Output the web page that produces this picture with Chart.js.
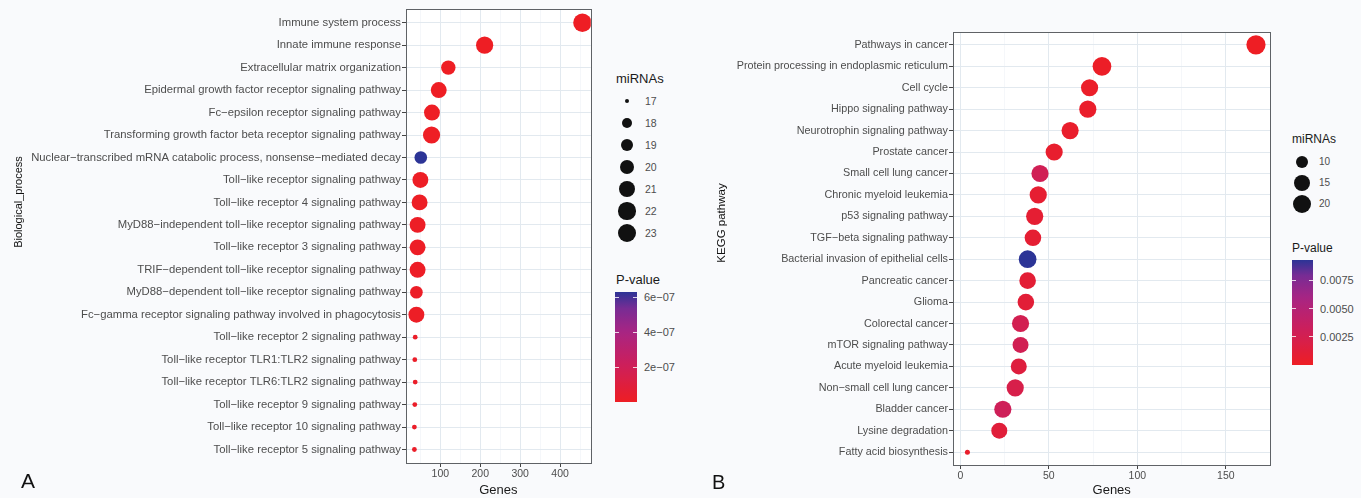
<!DOCTYPE html>
<html>
<head>
<meta charset="utf-8">
<title>GO / KEGG enrichment</title>
<script src="https://cdn.jsdelivr.net/npm/chart.js@4.4.1/dist/chart.umd.min.js"></script>
<style>
    body {
        margin: 0;
        width: 1361px;
        height: 498px;
        position: relative;
        overflow: hidden;
        background: #f9fafc;
        font-family: "Liberation Sans", Arial, sans-serif;
    }
    canvas { position: absolute; top: 0; }
    .txt { position: absolute; white-space: nowrap; line-height: 1; }
    .axis-title { color: #111; transform-origin: center; transform: translate(-50%, -50%) rotate(-90deg); }
    .panel-tag { font-size: 20px; color: #111; }
    .leg-title { color: #1a1a1a; transform: translateY(-50%); }
    .leg-label { color: #4d4d4d; transform: translateY(-50%); }
    .leg-dot { position: absolute; border-radius: 50%; background: #111; }
    .colorbar { position: absolute; }
    .cb-tick { position: absolute; height: 1px; background: rgba(255,255,255,0.8); }
</style>
</head>
<body>
<canvas id="chartA" width="600" height="498" style="left:0"></canvas>
<canvas id="chartB" width="580" height="498" style="left:700px"></canvas>
<div id="overlay"></div>

<script>
// ---- Panel A: Biological process ----
const bpTerms = [
    'Immune system process',
    'Innate immune response',
    'Extracellular matrix organization',
    'Epidermal growth factor receptor signaling pathway',
    'Fc−epsilon receptor signaling pathway',
    'Transforming growth factor beta receptor signaling pathway',
    'Nuclear−transcribed mRNA catabolic process, nonsense−mediated decay',
    'Toll−like receptor signaling pathway',
    'Toll−like receptor 4 signaling pathway',
    'MyD88−independent toll−like receptor signaling pathway',
    'Toll−like receptor 3 signaling pathway',
    'TRIF−dependent toll−like receptor signaling pathway',
    'MyD88−dependent toll−like receptor signaling pathway',
    'Fc−gamma receptor signaling pathway involved in phagocytosis',
    'Toll−like receptor 2 signaling pathway',
    'Toll−like receptor TLR1:TLR2 signaling pathway',
    'Toll−like receptor TLR6:TLR2 signaling pathway',
    'Toll−like receptor 9 signaling pathway',
    'Toll−like receptor 10 signaling pathway',
    'Toll−like receptor 5 signaling pathway'
];
const bpGenes = [456, 211, 120, 96, 79, 78, 51, 50, 48, 43, 43, 43, 40, 40, 37, 36, 37, 36, 35, 35];
const bpMirnas = [23, 22, 20, 21, 21, 22, 19, 21, 21, 21, 21, 21, 19, 21, 17, 17, 17, 17, 17, 17];
const bpPvalues = [1e-12, 2e-11, 5e-10, 1e-9, 3e-9, 2e-9, 6.3e-7, 4e-9, 5e-9, 6e-9, 6e-9, 6e-9, 1e-8, 8e-9, 2e-8, 2e-8, 2e-8, 2e-8, 2e-8, 2e-8];
const bpMajorTicks = [100, 200, 300, 400];
const bpMinorTicks = [50, 150, 250, 350, 450];
const bpSizeBreaks = [17, 18, 19, 20, 21, 22, 23];
const bpColorBreaks = [2e-7, 4e-7, 6e-7];
const bpColorLabels = ['2e−07', '4e−07', '6e−07'];

// ---- Panel B: KEGG pathway ----
const keggTerms = [
    'Pathways in cancer',
    'Protein processing in endoplasmic reticulum',
    'Cell cycle',
    'Hippo signaling pathway',
    'Neurotrophin signaling pathway',
    'Prostate cancer',
    'Small cell lung cancer',
    'Chronic myeloid leukemia',
    'p53 signaling pathway',
    'TGF−beta signaling pathway',
    'Bacterial invasion of epithelial cells',
    'Pancreatic cancer',
    'Glioma',
    'Colorectal cancer',
    'mTOR signaling pathway',
    'Acute myeloid leukemia',
    'Non−small cell lung cancer',
    'Bladder cancer',
    'Lysine degradation',
    'Fatty acid biosynthesis'
];
const keggGenes = [167, 80, 73, 72, 62, 53, 45, 44, 42, 41, 38, 38, 37, 34, 34, 33, 31, 24, 22, 4];
const keggMirnas = [21, 20, 17, 17, 17, 17, 17, 17, 17, 16, 18, 16, 16, 17, 15, 15, 17, 17, 15, 6];
const keggPvalues = [0.00002, 0.0002, 0.0003, 0.0004, 0.0005, 0.0006, 0.0028, 0.0008, 0.0009, 0.0009, 0.0093, 0.001, 0.0011, 0.0026, 0.0027, 0.0015, 0.0022, 0.003, 0.0013, 0.0005];
const keggMajorTicks = [0, 50, 100, 150];
const keggMinorTicks = [25, 75, 125, 175];
const keggSizeBreaks = [10, 15, 20];
const keggColorBreaks = [0.0025, 0.005, 0.0075];
const keggColorLabels = ['0.0025', '0.0050', '0.0075'];

// Gradiente rojo -> azul (aprox. interpolación Lab de ggplot)
const gradientStops = [
    [0.00, [238, 30, 36]],
    [0.32, [206, 31, 88]],
    [0.63, [170, 36, 130]],
    [0.85, [120, 44, 148]],
    [1.00, [44, 52, 150]]
];

function gradientColor(t) {
    t = Math.max(0, Math.min(1, t));
    for (let i = 1; i < gradientStops.length; i++) {
        const [t1, c1] = gradientStops[i];
        const [t0, c0] = gradientStops[i - 1];
        if (t <= t1) {
            const f = (t - t0) / (t1 - t0);
            const c = c0.map((v, k) => Math.round(v + (c1[k] - v) * f));
            return `rgb(${c[0]}, ${c[1]}, ${c[2]})`;
        }
    }
    return 'rgb(44, 52, 150)';
}

// Escala de tamaño tipo ggplot (área)
function makeSizeFn(values, rMin, rMax) {
    const vMin = Math.min(...values);
    const vMax = Math.max(...values);
    return v => rMin + Math.sqrt(Math.max(0, (v - vMin) / (vMax - vMin))) * (rMax - rMin);
}

// Fondo blanco del panel y borde
const panelFrame = {
    id: 'panelFrame',
    beforeDraw(chart) {
        const { ctx, chartArea: a } = chart;
        ctx.save();
        ctx.fillStyle = '#ffffff';
        ctx.fillRect(a.left, a.top, a.right - a.left, a.bottom - a.top);
        ctx.restore();
    },
    afterDraw(chart) {
        const { ctx, chartArea: a } = chart;
        ctx.save();
        ctx.strokeStyle = '#5f6266';
        ctx.lineWidth = 1;
        ctx.strokeRect(Math.round(a.left) + 0.5, Math.round(a.top) + 0.5,
            Math.round(a.right - a.left), Math.round(a.bottom - a.top));
        ctx.restore();
    }
};

Chart.defaults.font.family = '"Liberation Sans", Arial, sans-serif';

function buildPanel(p) {
    const gMin = Math.min(...p.genes), gMax = Math.max(...p.genes);
    const gPad = (gMax - gMin) * 0.05;
    const pMin = Math.min(...p.pvalues), pMax = Math.max(...p.pvalues);
    const sizeOf = makeSizeFn(p.mirnas, p.rMin, p.rMax);
    const gridTicks = [...p.majorTicks, ...p.minorTicks].sort((a, b) => a - b);
    const isMajor = v => p.majorTicks.includes(v);

    return new Chart(document.getElementById(p.canvas), {
        type: 'bubble',
        data: {
            datasets: [{
                data: p.genes.map((g, i) => ({ x: g, y: i, r: sizeOf(p.mirnas[i]) })),
                backgroundColor: ctx => gradientColor((p.pvalues[ctx.dataIndex] - pMin) / (pMax - pMin)),
                borderWidth: 0,
                hoverBorderWidth: 0
            }]
        },
        options: {
            responsive: false,
            animation: false,
            events: [],
            layout: { padding: p.padding },
            plugins: { legend: { display: false }, tooltip: { enabled: false } },
            scales: {
                x: {
                    type: 'linear',
                    min: gMin - gPad,
                    max: gMax + gPad,
                    afterBuildTicks: scale => { scale.ticks = gridTicks.map(v => ({ value: v })); },
                    afterFit: scale => { scale.height = p.xAxisHeight; },
                    border: { display: false },
                    grid: {
                        color: ctx => isMajor(ctx.tick.value) ? '#e2e9ef' : '#eef2f6',
                        lineWidth: ctx => isMajor(ctx.tick.value) ? 1 : 0.6,
                        tickColor: ctx => isMajor(ctx.tick.value) ? '#444' : 'rgba(0,0,0,0)',
                        tickLength: 4
                    },
                    ticks: {
                        autoSkip: false,
                        maxRotation: 0,
                        padding: 1,
                        color: '#4d4d4d',
                        font: { size: 10.5 },
                        callback: v => isMajor(v) ? String(v) : ''
                    },
                    title: {
                        display: true,
                        text: 'Genes',
                        color: '#1a1a1a',
                        font: { size: 13 },
                        padding: { top: 0, bottom: 0 }
                    }
                },
                y: {
                    type: 'linear',
                    reverse: true,
                    min: -0.6,
                    max: p.terms.length - 0.4,
                    afterBuildTicks: scale => { scale.ticks = p.terms.map((_, i) => ({ value: i })); },
                    afterFit: scale => { scale.width = p.yAxisWidth; },
                    border: { display: false },
                    grid: {
                        color: '#e2e9ef',
                        lineWidth: 1,
                        tickColor: '#444',
                        tickLength: 4
                    },
                    ticks: {
                        autoSkip: false,
                        padding: 1,
                        color: '#4d4d4d',
                        font: { size: p.labelSize },
                        callback: v => p.terms[v]
                    }
                }
            }
        },
        plugins: [panelFrame]
    });
}

// Leyendas (tamaño y barra de color)
function addText(cls, text, left, top, size, extra) {
    const el = document.createElement('div');
    el.className = 'txt ' + cls;
    el.textContent = text;
    el.style.left = left + 'px';
    el.style.top = top + 'px';
    el.style.fontSize = size + 'px';
    if (extra) Object.assign(el.style, extra);
    document.getElementById('overlay').appendChild(el);
    return el;
}

function buildLegend(p, L) {
    const overlay = document.getElementById('overlay');
    const sizeOf = makeSizeFn(p.mirnas, p.rMin, p.rMax);
    const pMin = Math.min(...p.pvalues), pMax = Math.max(...p.pvalues);

    addText('leg-title', 'miRNAs', L.left, L.sizeTitleY, L.titleSize);
    p.sizeBreaks.forEach((b, i) => {
        const cy = L.firstItemY + i * L.itemStep;
        const r = sizeOf(b);
        const dot = document.createElement('div');
        dot.className = 'leg-dot';
        dot.style.left = (L.dotX - r) + 'px';
        dot.style.top = (cy - r) + 'px';
        dot.style.width = dot.style.height = (2 * r) + 'px';
        overlay.appendChild(dot);
        addText('leg-label', String(b), L.labelX, cy, L.labelSize);
    });

    addText('leg-title', 'P-value', L.left, L.colorTitleY, L.titleSize);
    const bar = document.createElement('div');
    bar.className = 'colorbar';
    const stops = [];
    for (let i = 0; i <= 20; i++) stops.push(`${gradientColor(1 - i / 20)} ${i * 5}%`);
    bar.style.background = `linear-gradient(to bottom, ${stops.join(', ')})`;
    bar.style.left = L.barLeft + 'px';
    bar.style.top = L.barTop + 'px';
    bar.style.width = L.barWidth + 'px';
    bar.style.height = L.barHeight + 'px';
    overlay.appendChild(bar);

    p.colorBreaks.forEach((v, i) => {
        const y = L.barTop + L.barHeight - (v - pMin) / (pMax - pMin) * L.barHeight;
        [L.barLeft, L.barLeft + L.barWidth - 4].forEach(x => {
            const t = document.createElement('div');
            t.className = 'cb-tick';
            t.style.left = x + 'px';
            t.style.top = (y - 0.5) + 'px';
            t.style.width = '4px';
            overlay.appendChild(t);
        });
        addText('leg-label', p.colorLabels[i], L.barLeft + L.barWidth + 7, y, L.cbLabelSize);
    });
}

const panelA = {
    canvas: 'chartA', terms: bpTerms, genes: bpGenes, mirnas: bpMirnas, pvalues: bpPvalues,
    majorTicks: bpMajorTicks, minorTicks: bpMinorTicks,
    sizeBreaks: bpSizeBreaks, colorBreaks: bpColorBreaks, colorLabels: bpColorLabels,
    rMin: 2.4, rMax: 9.2, labelSize: 11.3,
    padding: { top: 8, right: 6, left: 0, bottom: 0 },
    yAxisWidth: 406, xAxisHeight: 35
};

const panelB = {
    canvas: 'chartB', terms: keggTerms, genes: keggGenes, mirnas: keggMirnas, pvalues: keggPvalues,
    majorTicks: keggMajorTicks, minorTicks: keggMinorTicks,
    sizeBreaks: keggSizeBreaks, colorBreaks: keggColorBreaks, colorLabels: keggColorLabels,
    rMin: 2.5, rMax: 9.6, labelSize: 10.8,
    padding: { top: 32, right: 8, left: 0, bottom: 0 },
    yAxisWidth: 253, xAxisHeight: 33
};

buildPanel(panelA);
buildPanel(panelB);

buildLegend(panelA, {
    left: 616, sizeTitleY: 78, titleSize: 13,
    firstItemY: 101, itemStep: 22, dotX: 627, labelX: 645, labelSize: 10.5,
    colorTitleY: 279, barLeft: 615, barTop: 292, barWidth: 22, barHeight: 110, cbLabelSize: 11
});
buildLegend(panelB, {
    left: 1292, sizeTitleY: 139, titleSize: 12,
    firstItemY: 162, itemStep: 21, dotX: 1302, labelX: 1319, labelSize: 10,
    colorTitleY: 248, barLeft: 1292, barTop: 260, barWidth: 21, barHeight: 105, cbLabelSize: 11
});

// Títulos de ejes Y y letras de panel
addText('axis-title', 'Biological_process', 18, 202, 11);
addText('axis-title', 'KEGG pathway', 722, 223, 11.5);
addText('panel-tag', 'A', 21, 470, 21);
addText('panel-tag', 'B', 712, 472, 20);
</script>
</body>
</html>
